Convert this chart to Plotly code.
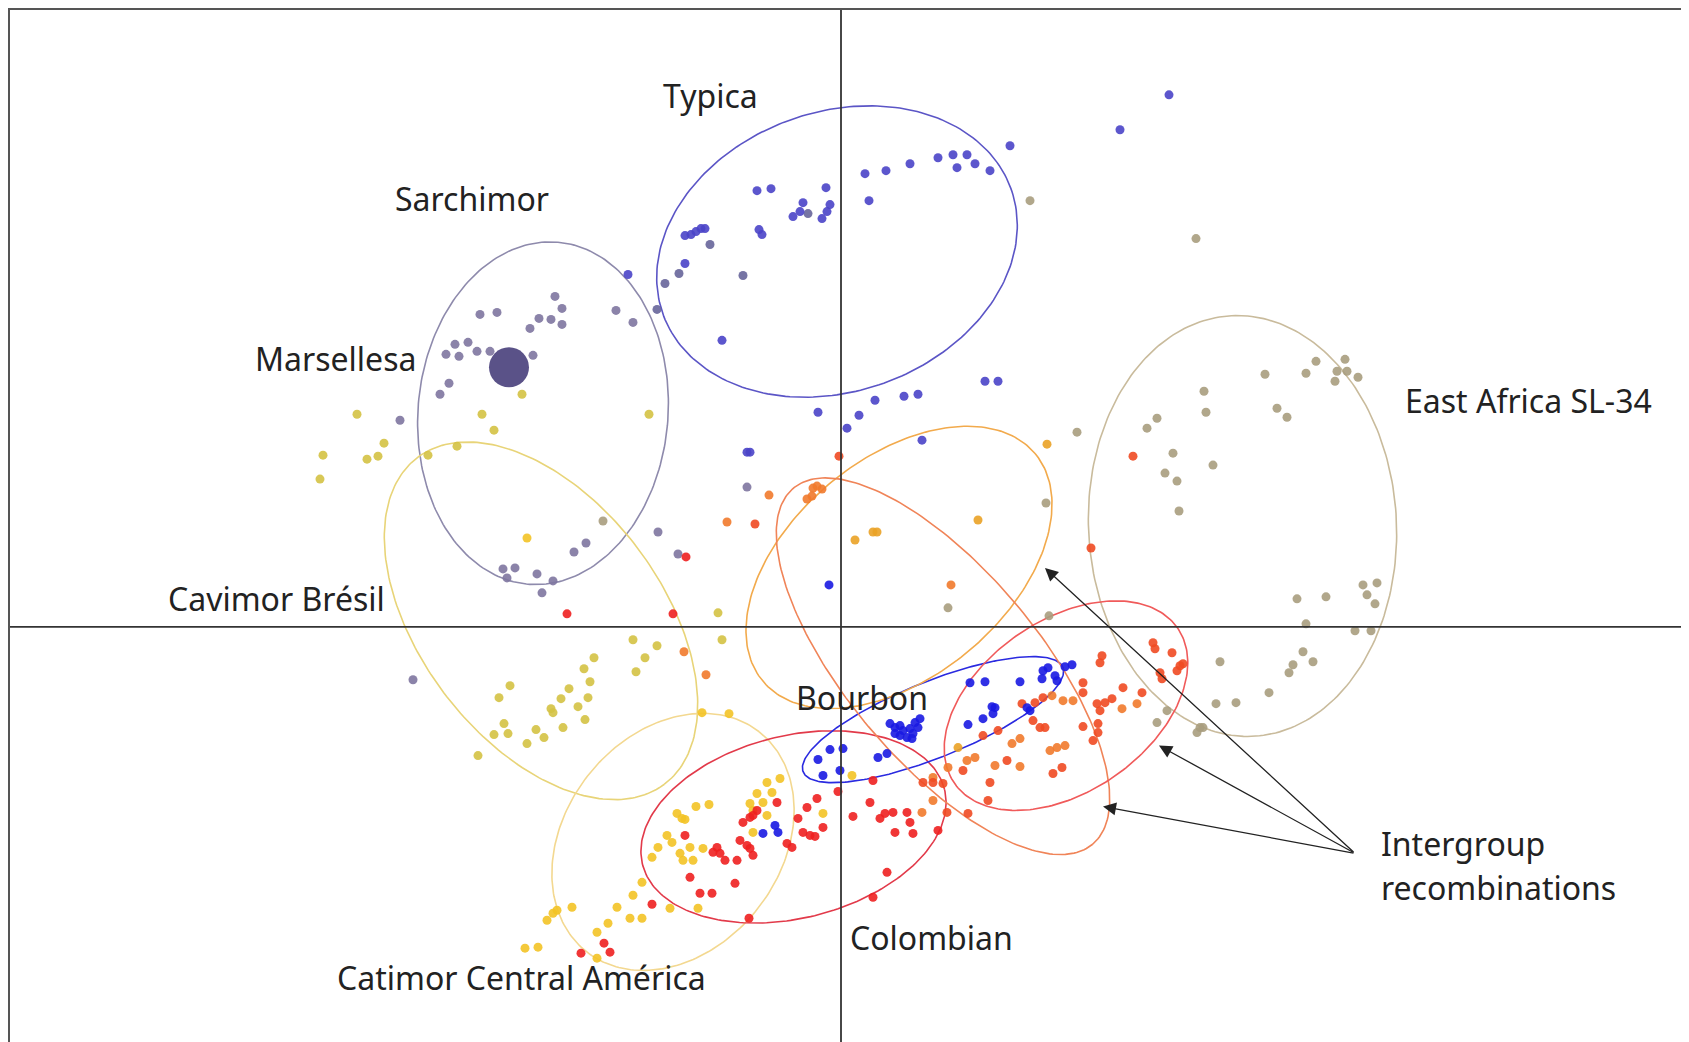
import numpy as np
import plotly.graph_objects as go

# ---------------- data (PC1, PC2) ----------------
typica_x = [-0.84,-0.70,-0.15,-0.38,-0.48,-0.41,-0.19,-0.14,-0.11,-0.82,-0.79,-1.56,-1.50,-1.45,-1.40,-1.36,-1.56,-1.19,
            0.24,0.45,0.69,0.97,1.12,1.26,1.34,1.16,1.49,1.69,0.28,1.44,1.57,0.63,0.77,0.34,-0.23,0.18,0.06,0.81,-0.94,-0.91,-2.13,3.28,2.79]
typica_y = [4.37,4.39,4.40,4.25,4.11,4.16,4.09,4.16,4.23,3.98,3.93,3.92,3.93,3.96,3.99,3.99,3.64,2.87,
            4.54,4.57,4.64,4.70,4.73,4.73,4.64,4.60,4.57,4.82,4.27,2.46,2.46,2.31,2.33,2.27,2.15,2.12,1.99,1.87,1.75,1.75,3.53,5.33,4.98]

typica_grey_x = [-1.31,-1.62,-1.76,-1.84,-0.98,-0.33]
typica_grey_y = [3.83,3.54,3.44,3.18,3.52,4.14]

sarchimor_x = [-3.61,-3.44,-2.86,-2.79,-3.02,-2.90,-2.79,-3.11,-2.25,-2.08,-3.95,-3.86,-3.82,-3.73,-3.64,-3.51,-3.08,-3.92,-4.01,-4.41,
               -3.38,-3.34,-3.26,-3.04,-2.88,-2.99,-2.67,-2.55,-1.83,-1.63,-4.28,-0.94]
sarchimor_y = [3.13,3.15,3.31,3.19,3.09,3.08,3.03,2.99,3.17,3.05,2.73,2.83,2.71,2.85,2.76,2.76,2.72,2.44,2.33,2.07,
               0.58,0.49,0.59,0.53,0.46,0.34,0.75,0.84,0.95,0.73,-0.53,1.40]

marsellesa_x = [-3.32]
marsellesa_y = [2.60]

cavimor_x = [-4.84,-5.18,-5.21,-4.74,-4.63,-4.57,-4.13,-3.84,-3.59,-3.47,-3.19,-1.92,
             -2.08,-1.84,-1.96,-2.05,-2.47,-2.57,-2.51,-2.72,-2.80,-2.53,-2.63,-2.90,-2.88,-2.56,-2.78,-3.05,-2.97,-3.14,
             -3.31,-3.42,-3.37,-3.47,-3.33,-3.63,-1.23,-1.19]
cavimor_y = [2.13,1.72,1.48,1.68,1.71,1.84,1.72,1.81,2.13,1.97,2.33,2.13,
             -0.13,-0.19,-0.31,-0.45,-0.31,-0.42,-0.55,-0.62,-0.72,-0.71,-0.80,-0.82,-0.86,-0.93,-1.01,-1.03,-1.11,-1.17,
             -0.59,-0.71,-0.97,-1.08,-1.07,-1.29,0.14,-0.13]

catimor_x = [-3.14,-1.39,-1.12,-0.61,-0.74,-0.69,-0.84,-0.78,-0.91,-0.88,-0.74,-1.45,-1.32,-1.64,-1.59,-1.56,-1.74,-1.83,-1.69,-1.61,
             -1.58,-1.51,-1.48,-1.38,-1.89,-0.88,-0.18,0.11,-1.99,-2.08,-2.24,-1.71,-2.11,-1.99,-2.33,-2.44,-2.69,-2.84,-2.88,-2.94,
             -3.16,-3.03,-2.44,-1.43]
catimor_y = [0.89,-0.86,-0.87,-1.52,-1.56,-1.66,-1.67,-1.76,-1.77,-1.84,-1.89,-1.80,-1.78,-1.87,-1.92,-1.93,-2.09,-2.21,-2.16,-2.27,
             -2.34,-2.21,-2.34,-2.22,-2.31,-2.06,-1.87,-1.49,-2.56,-2.69,-2.81,-2.82,-2.92,-2.92,-2.97,-3.06,-2.81,-2.84,-2.87,-2.94,
             -3.22,-3.21,-3.32,-2.82]

colombian_x = [-0.64,-0.91,-0.98,-0.84,-0.88,-1.01,-0.94,-0.91,-0.88,-1.24,-1.28,-1.21,-1.16,-1.04,-1.56,-1.51,-1.06,-1.41,-1.29,-1.89,
               -2.60,-2.37,-2.31,-0.54,-0.49,-0.43,-0.34,-0.24,-0.38,-0.31,-0.26,-0.18,-0.92,0.12,0.29,0.32,0.39,0.44,0.52,0.66,
               0.69,0.54,0.72,0.46,0.32,0.97,-0.03,-2.74,-1.68,-1.55]
colombian_y = [-1.76,-1.91,-1.96,-1.84,-1.89,-2.14,-2.19,-2.22,-2.29,-2.21,-2.26,-2.27,-2.34,-2.34,-2.09,-2.51,-2.57,-2.67,-2.67,-2.78,
               -3.27,-3.17,-3.26,-2.17,-2.21,-1.92,-1.81,-1.72,-2.06,-2.09,-2.10,-2.01,-2.92,-1.90,-1.76,-1.54,-1.92,-1.87,-1.86,-1.86,
               -1.96,-2.06,-2.07,-2.46,-2.71,-2.04,-1.65,0.13,0.13,0.70]

bourbon_x = [1.29,1.44,1.79,2.01,2.02,2.07,2.16,2.14,2.24,2.31,1.51,1.54,1.52,1.42,1.27,1.86,1.89,
             0.49,0.54,0.59,0.62,0.69,0.74,0.79,0.77,0.72,0.66,0.71,0.59,0.54,0.37,0.46,
             -0.23,-0.11,0.02,-0.18,-0.01,-0.78,-0.66,-0.63,-0.12]
bourbon_y = [-0.56,-0.55,-0.55,-0.52,-0.44,-0.41,-0.54,-0.49,-0.40,-0.38,-0.80,-0.81,-0.87,-0.92,-0.98,-0.81,-0.84,
             -0.97,-1.01,-0.99,-1.04,-1.02,-0.96,-0.92,-1.01,-1.07,-1.11,-1.12,-1.09,-1.07,-1.31,-1.27,
             -1.33,-1.23,-1.22,-1.49,-1.44,-2.07,-1.99,-2.06,0.42]

recomb_amber_x = [1.37,0.14,0.32,0.36,2.06,1.17]
recomb_amber_y = [1.07,0.87,0.95,0.95,1.83,-1.21]

recomb_orange_x = [-1.57,-1.35,-0.28,-0.24,-0.19,-0.34,-0.29,-0.72,-1.14,1.10,1.07,1.26,1.34,1.54,1.79,1.71,1.79,2.09,2.16,2.24,
                   2.11,2.22,2.32,2.81,2.96,0.92,0.81,0.92]
recomb_orange_y = [-0.25,-0.48,1.39,1.41,1.38,1.28,1.31,1.32,1.05,0.42,-1.41,-1.34,-1.31,-1.39,-1.40,-1.17,-1.12,-1.24,-1.21,-1.19,
                   -0.69,-0.74,-0.74,-0.82,-0.77,-1.51,-1.86,-1.74]

recomb_red_x = [-0.02,-0.86,2.50,2.92,1.06,1.27,1.02,1.22,1.42,1.57,1.49,1.47,1.66,1.81,1.92,1.99,2.04,1.94,2.12,2.21,
                2.02,2.42,2.42,2.42,2.52,2.57,2.57,2.59,2.56,2.64,2.71,3.01,2.82,2.61,2.59,3.12,3.14,3.31,3.19,3.21,
                3.39,3.42,3.36,0.82,0.92]
recomb_red_y = [1.71,1.03,0.79,1.71,-1.86,-1.87,-1.57,-1.44,-1.09,-1.04,-1.56,-1.74,-1.34,-0.77,-0.94,-1.01,-1.01,-0.76,-1.47,-1.41,
                -0.71,-0.56,-0.66,-1.00,-1.14,-1.06,-0.97,-0.84,-0.77,-0.76,-0.72,-0.66,-0.61,-0.29,-0.36,-0.16,-0.22,-0.26,-0.46,-0.52,
                -0.39,-0.37,-0.44,-1.56,-1.56]

eastafrica_x = [1.89,3.55,2.36,3.63,3.65,3.06,3.16,3.32,3.72,3.24,3.36,3.38,4.24,4.36,4.46,4.65,4.75,4.96,4.94,5.04,
                5.06,5.17,4.56,4.85,5.22,5.36,5.26,5.34,4.65,5.14,5.30,3.79,4.62,4.72,4.52,4.48,4.28,3.75,3.95,3.26,
                3.16,3.59,3.56,3.62,2.05,1.07,2.08,-2.38]
eastafrica_y = [4.27,3.89,1.95,2.36,2.15,1.99,2.09,1.74,1.62,1.54,1.46,1.16,2.53,2.19,2.10,2.54,2.66,2.56,2.46,2.68,
                2.56,2.50,0.28,0.30,0.42,0.44,0.32,0.23,0.03,-0.04,-0.04,-0.35,-0.25,-0.35,-0.38,-0.46,-0.66,-0.77,-0.76,-0.84,
                -0.96,-1.01,-1.06,-1.01,1.24,0.19,0.11,1.06]

# ellipses: centre x, centre y, semi-major, semi-minor, angle (deg), colour
ell_cx    = [-0.04, -2.98, -3.00, -1.68, -0.475, 0.92, 4.015, 0.58, 1.02, 2.25]
ell_cy    = [3.76, 2.14, 0.06, -2.155, -2.005, -0.93, 1.01, 0.595, -0.395, -0.79]
ell_a     = [1.85, 1.72, 2.05, 1.40, 1.556, 1.40, 2.11, 1.776, 2.328, 1.36]
ell_b     = [1.40, 1.25, 1.21, 1.08, 0.914, 0.38, 1.54, 1.09, 0.96, 0.858]
ell_ang   = [20, 85, -53, 52, 14, 22, 93, 40, -50, 35]
ell_col   = ["#5b55c6", "#8e8aac", "#e8d478", "#f3d890", "#e23a4a", "#2a2ae0",
             "#c9bb9c", "#f2aa4c", "#f08458", "#f05a5a"]

label_text = ["Typica", "Sarchimor", "Marsellesa", "East Africa SL-34", "Cavimor Brésil",
              "Bourbon", "Colombian", "Catimor Central América", "Intergroup", "recombinations"]
label_x = [-1.31, -3.69, -5.06, 6.87, -5.65, 0.21, 0.90, -3.20, 5.38, 5.38]
label_y = [5.32, 4.29, 2.69, 2.27, 0.28, -0.71, -3.11, -3.51, -2.17, -2.61]
label_anchor = ["center"] * 8 + ["left", "left"]

arrow_tail = (5.14, -2.27)
arrow_tip_x = [2.04, 3.18, 2.62]
arrow_tip_y = [0.59, -1.19, -1.80]

# ---------------- figure ----------------
fig = go.Figure()

t = np.linspace(0, 2 * np.pi, 240)
for cx, cy, a, b, ang, col in zip(ell_cx, ell_cy, ell_a, ell_b, ell_ang, ell_col):
    th = np.deg2rad(ang)
    ex = cx + a * np.cos(t) * np.cos(th) - b * np.sin(t) * np.sin(th)
    ey = cy + a * np.cos(t) * np.sin(th) + b * np.sin(t) * np.cos(th)
    fig.add_trace(go.Scatter(x=ex, y=ey, mode="lines", line=dict(color=col, width=1.6),
                             hoverinfo="skip", showlegend=False))

groups = [
    (eastafrica_x, eastafrica_y, "#a99d7e"),
    (cavimor_x, cavimor_y, "#d4c244"),
    (sarchimor_x, sarchimor_y, "#7e76a0"),
    (typica_grey_x, typica_grey_y, "#67659a"),
    (typica_x, typica_y, "#4a44c8"),
    (catimor_x, catimor_y, "#f3c326"),
    (recomb_amber_x, recomb_amber_y, "#eaa226"),
    (recomb_orange_x, recomb_orange_y, "#f17a2c"),
    (recomb_red_x, recomb_red_y, "#f04a22"),
    (colombian_x, colombian_y, "#ee2020"),
    (bourbon_x, bourbon_y, "#1a1ae2"),
]
for gx, gy, col in groups:
    fig.add_trace(go.Scatter(x=gx, y=gy, mode="markers",
                             marker=dict(size=9, color=col, opacity=0.9, line=dict(width=0)),
                             showlegend=False))

fig.add_trace(go.Scatter(x=marsellesa_x, y=marsellesa_y, mode="markers",
                         marker=dict(size=40, color="#5a5288", line=dict(width=0)),
                         showlegend=False))

for txt, x, y, anc in zip(label_text, label_x, label_y, label_anchor):
    fig.add_annotation(x=x, y=y, text=txt, showarrow=False, xanchor=anc, yanchor="middle",
                       font=dict(family="Noto Sans", size=32, color="#222222"))

for tx, ty in zip(arrow_tip_x, arrow_tip_y):
    fig.add_annotation(x=tx, y=ty, ax=arrow_tail[0], ay=arrow_tail[1], axref="x", ayref="y",
                       xref="x", yref="y", text="", showarrow=True, arrowhead=2, arrowsize=2,
                       arrowwidth=1.3, arrowcolor="#222222", standoff=0)

# crosshair axes through origin
fig.add_shape(type="line", x0=0, x1=0, y0=0, y1=1, xref="x", yref="paper",
              line=dict(color="#333333", width=1.8))
fig.add_shape(type="line", x0=0, x1=1, y0=0, y1=0, xref="paper", yref="y",
              line=dict(color="#333333", width=1.8))

fig.update_layout(
    width=1681, height=1034,
    margin=dict(l=2, r=3, t=0, b=0),
    paper_bgcolor="white", plot_bgcolor="white",
    xaxis=dict(range=[-8.31, 8.45], showgrid=False, zeroline=False, showticklabels=False,
               ticks="", showline=True, mirror=True, linecolor="#555555", linewidth=2),
    yaxis=dict(range=[-4.16, 6.18], showgrid=False, zeroline=False, showticklabels=False,
               ticks="", showline=True, mirror=True, linecolor="#555555", linewidth=2),
)

fig.write_html("out.html")
